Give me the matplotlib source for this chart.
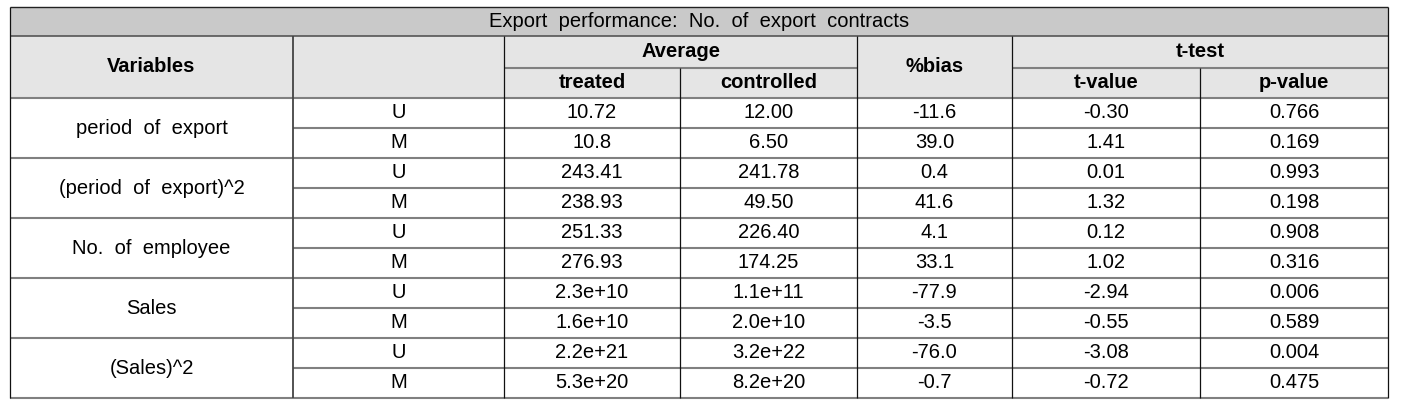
import matplotlib
matplotlib.use("Agg")
import matplotlib.pyplot as plt
from matplotlib.patches import Rectangle

plt.rcParams['font.family'] = ['Liberation Sans', 'DejaVu Sans']

title = "Export performance: No. of export contracts"
variables = ["period of export", "(period of export)^2", "No. of employee", "Sales", "(Sales)^2"]
sample = ["U", "M"]
treated = [["10.72", "10.8"], ["243.41", "238.93"], ["251.33", "276.93"], ["2.3e+10", "1.6e+10"], ["2.2e+21", "5.3e+20"]]
controlled = [["12.00", "6.50"], ["241.78", "49.50"], ["226.40", "174.25"], ["1.1e+11", "2.0e+10"], ["3.2e+22", "8.2e+20"]]
bias = [["-11.6", "39.0"], ["0.4", "41.6"], ["4.1", "33.1"], ["-77.9", "-3.5"], ["-76.0", "-0.7"]]
tvalue = [["-0.30", "1.41"], ["0.01", "1.32"], ["0.12", "1.02"], ["-2.94", "-0.55"], ["-3.08", "-0.72"]]
pvalue = [["0.766", "0.169"], ["0.993", "0.198"], ["0.908", "0.316"], ["0.006", "0.589"], ["0.004", "0.475"]]

W, H = 1408, 400
fig = plt.figure(figsize=(W / 100, H / 100), dpi=100)
ax = fig.add_axes([0, 0, 1, 1])
ax.set_xlim(0, W)
ax.set_ylim(H, 0)
ax.axis('off')

# layout (pixels)
xs = [10, 293, 504, 680, 857, 1012, 1200, 1388]
y_top, y_t, y_h1, y_h2 = 7, 36, 67.5, 98
row_h = 30
n_rows = len(variables) * 2
y_bot = y_h2 + row_h * n_rows

TITLE_BG = "#c9c9c9"
HEAD_BG = "#e5e5e5"
GRAY = "#808080"
FS = 14.5
WIDE = "  "  # wider word spacing as in the reference

ax.add_patch(Rectangle((xs[0], y_top), xs[-1] - xs[0], y_t - y_top, facecolor=TITLE_BG, edgecolor='none'))
ax.add_patch(Rectangle((xs[0], y_t), xs[-1] - xs[0], y_h2 - y_t, facecolor=HEAD_BG, edgecolor='none'))

hlw = 1.5
vlw = 0.9
def hline(y, x0, x1, color=GRAY, lw=hlw):
    ax.plot([x0, x1], [y, y], color=color, lw=lw, solid_capstyle='butt')
def vline(x, y0, y1, color="#111111", lw=vlw):
    ax.plot([x, x], [y0, y1], color=color, lw=lw, solid_capstyle='butt')

# horizontal lines
hline(y_top, xs[0], xs[-1], color="#222222", lw=1.0)
hline(y_t, xs[0], xs[-1], color="#555555", lw=1.2)
hline(y_h1, xs[2], xs[4])
hline(y_h1, xs[5], xs[7])
hline(y_h2, xs[0], xs[-1])
for i in range(1, n_rows + 1):
    y = y_h2 + row_h * i
    if i % 2 == 1:
        hline(y, xs[1], xs[-1])
    else:
        hline(y, xs[0], xs[-1])

# vertical lines
vline(xs[0], y_top, y_bot)
vline(xs[-1], y_top, y_bot)
vline(xs[1], y_t, y_bot, color="#444444", lw=1.3)
vline(xs[2], y_t, y_bot)
vline(xs[3], y_h1, y_bot)
vline(xs[4], y_t, y_bot)
vline(xs[5], y_t, y_bot)
vline(xs[6], y_h1, y_bot)

def cx(i):
    return (xs[i] + xs[i + 1]) / 2

def txt(x, y, s, bold=False):
    ax.text(x, y, s, ha='center', va='center', fontsize=FS,
            fontweight='bold' if bold else 'normal', color='black')

txt((xs[0] + xs[-1]) / 2, (y_top + y_t) / 2, title.replace(" ", WIDE))
txt(cx(0), (y_t + y_h2) / 2, "Variables", bold=True)
txt((xs[2] + xs[4]) / 2, (y_t + y_h1) / 2, "Average", bold=True)
txt(cx(4), (y_t + y_h2) / 2, "%bias", bold=True)
txt((xs[5] + xs[7]) / 2, (y_t + y_h1) / 2, "t-test", bold=True)
txt(cx(2), (y_h1 + y_h2) / 2, "treated", bold=True)
txt(cx(3), (y_h1 + y_h2) / 2, "controlled", bold=True)
txt(cx(5), (y_h1 + y_h2) / 2, "t-value", bold=True)
txt(cx(6), (y_h1 + y_h2) / 2, "p-value", bold=True)

for g, var in enumerate(variables):
    y0 = y_h2 + 2 * g * row_h
    txt(cx(0), y0 + row_h, var.replace(" ", WIDE))
    for k in range(2):
        yc = y0 + k * row_h + row_h / 2
        txt(cx(1), yc, sample[k])
        txt(cx(2), yc, treated[g][k])
        txt(cx(3), yc, controlled[g][k])
        txt(cx(4), yc, bias[g][k])
        txt(cx(5), yc, tvalue[g][k])
        txt(cx(6), yc, pvalue[g][k])

fig.savefig("out.png", dpi=100)
